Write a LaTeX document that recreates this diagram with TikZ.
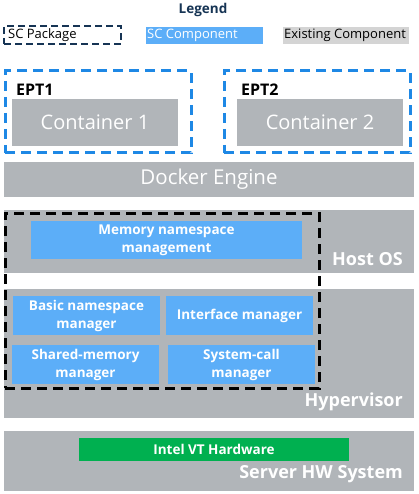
\documentclass[tikz,border=0pt]{standalone}
\usepackage{fontspec}
\setmainfont{Open Sans}
\usetikzlibrary{positioning}
\definecolor{laygray}{RGB}{177,181,185}
\definecolor{keygray}{RGB}{212,212,212}
\definecolor{scblue}{RGB}{92,174,248}
\definecolor{eptblue}{RGB}{30,136,229}
\definecolor{keynavy}{RGB}{22,52,84}
\definecolor{vtgreen}{RGB}{0,176,80}

\begin{document}
\begin{tikzpicture}[x=1pt,y=-1pt,
 box/.style={anchor=north west, inner sep=0pt, outer sep=0pt},
 existing/.style={box, fill=laygray, text=white},
 sccomp/.style={box, fill=scblue, text=white, align=center, font=\bfseries\fontsize{13.5}{18}\selectfont},
 layername/.style={anchor=east, inner sep=0pt, text=white, font=\bfseries\fontsize{18}{22}\selectfont},
 eptpkg/.style={box, draw=eptblue, line width=3pt, dash pattern=on 10pt off 6pt},
 scpkg/.style={box, draw=black, line width=3pt, dash pattern=on 10pt off 6pt},
 keytext/.style={anchor=west, inner sep=0pt, font=\fontsize{13}{16}\selectfont}]
\useasboundingbox (0,0) rectangle (418,494);

% legend
\node[text=keynavy, font=\bfseries\fontsize{13.5}{16}\selectfont] (legend) at (203,10) {Legend};
\node[box, draw=keynavy, line width=2pt, dash pattern=on 7pt off 4pt, minimum width=117pt, minimum height=18pt] (pkgkey) at (4,26) {};
\node[keytext] at ([xshift=4pt]pkgkey.west) {SC Package};
\node[box, fill=scblue, minimum width=117pt, minimum height=17pt] (compkey) at (146,27) {};
\node[keytext, text=white] at ([xshift=1pt]compkey.west) {SC Component};
\node[box, fill=keygray, minimum width=126pt, minimum height=17pt] (existkey) at (283,27) {};
\node[keytext] at ([xshift=1pt]existkey.west) {Existing Component};

% containers
\foreach \i/\x/\cx in {1/5/12, 2/224/237} {
 \node[eptpkg, minimum width=186pt, minimum height=82pt] (ept\i) at (\x,71) {};
 \node[existing, minimum width=166pt, minimum height=47pt, font=\fontsize{20}{24}\selectfont] (cont\i) at (\cx,99) {Container \i};
 \node[anchor=south west, inner sep=0pt, font=\bfseries\fontsize{16}{19}\selectfont] at ([xshift=4pt,yshift=3pt]cont\i.north west) {EPT\i};
}

% layers
\node[existing, minimum width=410pt, minimum height=35pt, font=\fontsize{20.5}{24}\selectfont] (docker) at (4,162) {Docker Engine};
\node[existing, minimum width=410pt, minimum height=63pt] (hostos) at (4,210) {};
\node[layername] at (403,259) {Host OS};
\node[existing, minimum width=410pt, minimum height=129pt] (hyper) at (4,289) {};
\node[layername] at (403,402) {Hypervisor};
\node[existing, minimum width=410pt, minimum height=60pt] (server) at (4,431) {};
\node[layername] at (403,474) {Server HW System};

% SC components
\node[sccomp, minimum width=271pt, minimum height=38pt] (memns) at (31,221) {Memory namespace\\management};
\node[sccomp, minimum width=147pt, minimum height=39pt] (basicns) at (13,296) {Basic namespace\\manager};
\node[sccomp, minimum width=147pt, minimum height=39pt] (ifman) at (166,296) {Interface manager};
\node[sccomp, minimum width=147pt, minimum height=39pt] (shmman) at (12,345) {Shared-memory\\manager};
\node[sccomp, minimum width=147pt, minimum height=39pt] (sysman) at (168,345) {System-call\\manager};
\node[scpkg, minimum width=314pt, minimum height=175pt] (scpkg) at (5,213) {};

\node[sccomp, fill=vtgreen, minimum width=270pt, minimum height=23pt] (vthw) at (79,438) {Intel VT Hardware};
\end{tikzpicture}
\end{document}
